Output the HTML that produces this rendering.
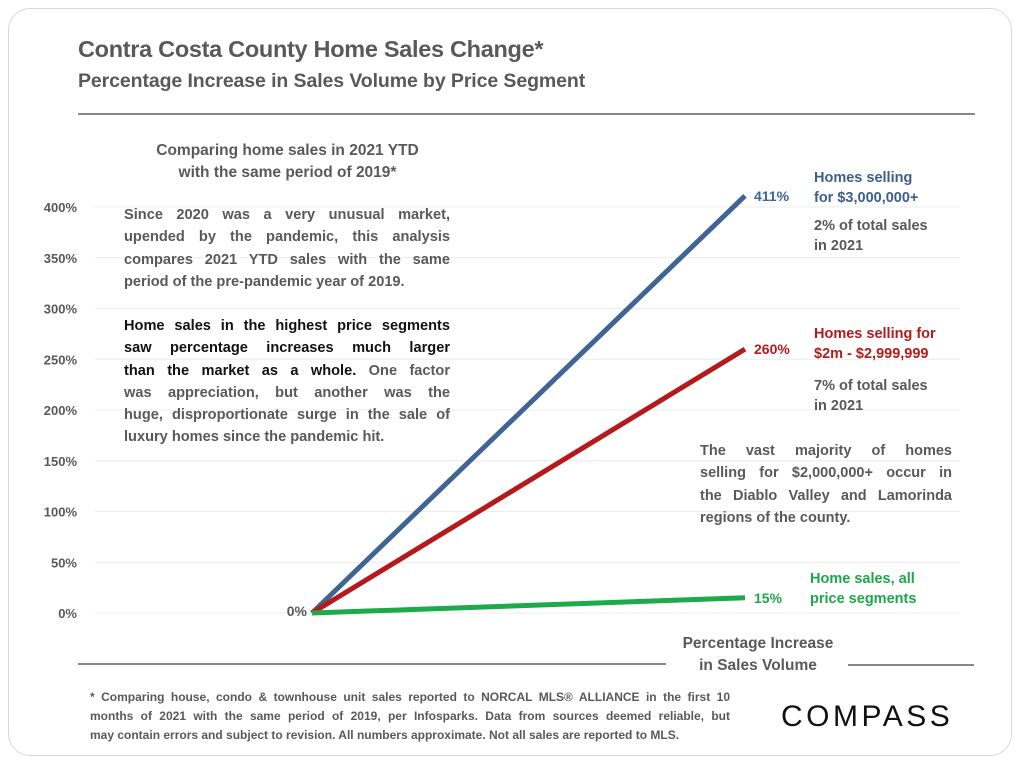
<!DOCTYPE html>
<html><head><meta charset="utf-8"><style>
body{margin:0;width:1024px;height:768px;background:#fff;font-family:"Liberation Sans",sans-serif;position:relative;overflow:hidden}
.card{position:absolute;left:8px;top:8px;width:1004px;height:748px;border:1.5px solid #d8d8d8;border-radius:22px;box-sizing:border-box}
.t{position:absolute;color:#595959;font-weight:bold}
.j{text-align:justify;text-align-last:justify}
</style></head><body>
<div class="card"></div>
<div class="t" style="left:78px;top:36px;font-size:23.5px;letter-spacing:-0.3px">Contra Costa County Home Sales Change*</div>
<div class="t" style="left:78px;top:70px;font-size:19.5px;letter-spacing:-0.1px">Percentage Increase in Sales Volume by Price Segment</div>
<div style="position:absolute;left:78px;top:113px;width:897px;height:2px;background:#888"></div>
<svg id="chart" width="1024" height="768" style="position:absolute;left:0;top:0"></svg>
<div class="t" style="left:120px;top:140px;width:335px;text-align:center;font-size:15.5px;line-height:22px">Comparing home sales in 2021 YTD<br>with the same period of 2019*</div>
<div class="t" style="left:124px;top:204px;width:326px;font-size:14.6px;line-height:22.3px;text-align:justify">
<div class="j">Since 2020 was a very unusual market,</div><div class="j">upended by the pandemic, this analysis</div><div class="j">compares 2021 YTD sales with the same</div><div>period of the pre-pandemic year of 2019.</div></div>
<div class="t" style="left:124px;top:315px;width:326px;font-size:14.6px;line-height:22.3px">
<div class="j" style="color:#111">Home sales in the highest price segments</div><div class="j" style="color:#111">saw percentage increases much larger</div><div class="j"><span style="color:#111">than the market as a whole.</span> One factor</div><div class="j">was appreciation, but another was the</div><div class="j">huge, disproportionate surge in the sale of</div><div>luxury homes since the pandemic hit.</div></div>
<div class="t" style="left:814px;top:168px;font-size:14.5px;line-height:20px;color:#3d5e8c">Homes selling<br>for $3,000,000+</div>
<div class="t" style="left:814px;top:216px;font-size:14.5px;line-height:20px">2% of total sales<br>in 2021</div>
<div class="t" style="left:814px;top:324px;font-size:14.5px;line-height:20px;color:#b01c1c">Homes selling for<br>$2m - $2,999,999</div>
<div class="t" style="left:814px;top:376px;font-size:14.5px;line-height:20px">7% of total sales<br>in 2021</div>
<div class="t" style="left:700px;top:440px;width:252px;font-size:14.5px;line-height:22.3px">
<div class="j">The vast majority of homes</div><div class="j">selling for $2,000,000+ occur in</div><div class="j">the Diablo Valley and Lamorinda</div><div>regions of the county.</div></div>
<div class="t" style="left:810px;top:569px;font-size:14.5px;line-height:20px;color:#1fa64a">Home sales, all<br>price segments</div>
<div class="t" style="left:663px;top:633px;width:190px;text-align:center;font-size:15.5px;line-height:22px;color:#595959">Percentage Increase<br>in Sales Volume</div>
<div style="position:absolute;left:78px;top:663px;width:588px;height:2px;background:#888"></div>
<div style="position:absolute;left:848px;top:664px;width:126px;height:2px;background:#888"></div>
<div class="t" style="left:90px;top:688px;width:640px;font-size:12px;line-height:19px">
<div class="j">* Comparing house, condo &amp; townhouse unit sales reported to NORCAL MLS® ALLIANCE in the first 10</div><div class="j">months of 2021 with the same period of 2019, per Infosparks. Data from sources deemed reliable, but</div><div>may contain errors and subject to revision. All numbers approximate. Not all sales are reported to MLS.</div></div>
<div style="position:absolute;left:781px;top:700px;font-size:30px;letter-spacing:3.5px;color:#111">COMPASS</div>
<script>
const ticks=[0,50,100,150,200,250,300,350,400];
const tickLabels=["0%","50%","100%","150%","200%","250%","300%","350%","400%"];
const seriesNames=["3m-plus","2m-3m","all-segments"];
const startValues=[0,0,0];
const endValues=[411,260,15];
const colors=["#3f6593","#b5191c","#1daa4a"];
const svg=document.getElementById('chart');
const NS='http://www.w3.org/2000/svg';
const y=v=>613-v*(406/400);
const x0=312,x1=745;
function mk(t,a){const e=document.createElementNS(NS,t);for(const k in a)e.setAttribute(k,a[k]);svg.appendChild(e);return e;}
ticks.forEach((v,i)=>{
 const g=mk('line',{x1:95,x2:960,y1:y(v),y2:y(v),stroke:'#ececec','stroke-width':1});
 
 
 const t=mk('text',{x:77,y:y(v)+5,'text-anchor':'end','font-size':13,'font-weight':'bold',fill:'#595959','font-family':'Liberation Sans'});
 t.textContent=tickLabels[i];
 
 
});
endValues.forEach((v,i)=>{
 const l=mk('line',{x1:x0,y1:y(startValues[i]),x2:x1,y2:y(v),stroke:colors[i],'stroke-width':5});
 
 
 const t=mk('text',{x:x1+9,y:y(v)+5,'font-size':14,'font-weight':'bold',fill:colors[i],'font-family':'Liberation Sans'});
 t.textContent=v+'%';
 
 
});
const z=mk('text',{x:307,y:y(0)+3,'text-anchor':'end','font-size':14,'font-weight':'bold',fill:'#595959','font-family':'Liberation Sans'});
z.textContent='0%';


</script>
</body></html>
